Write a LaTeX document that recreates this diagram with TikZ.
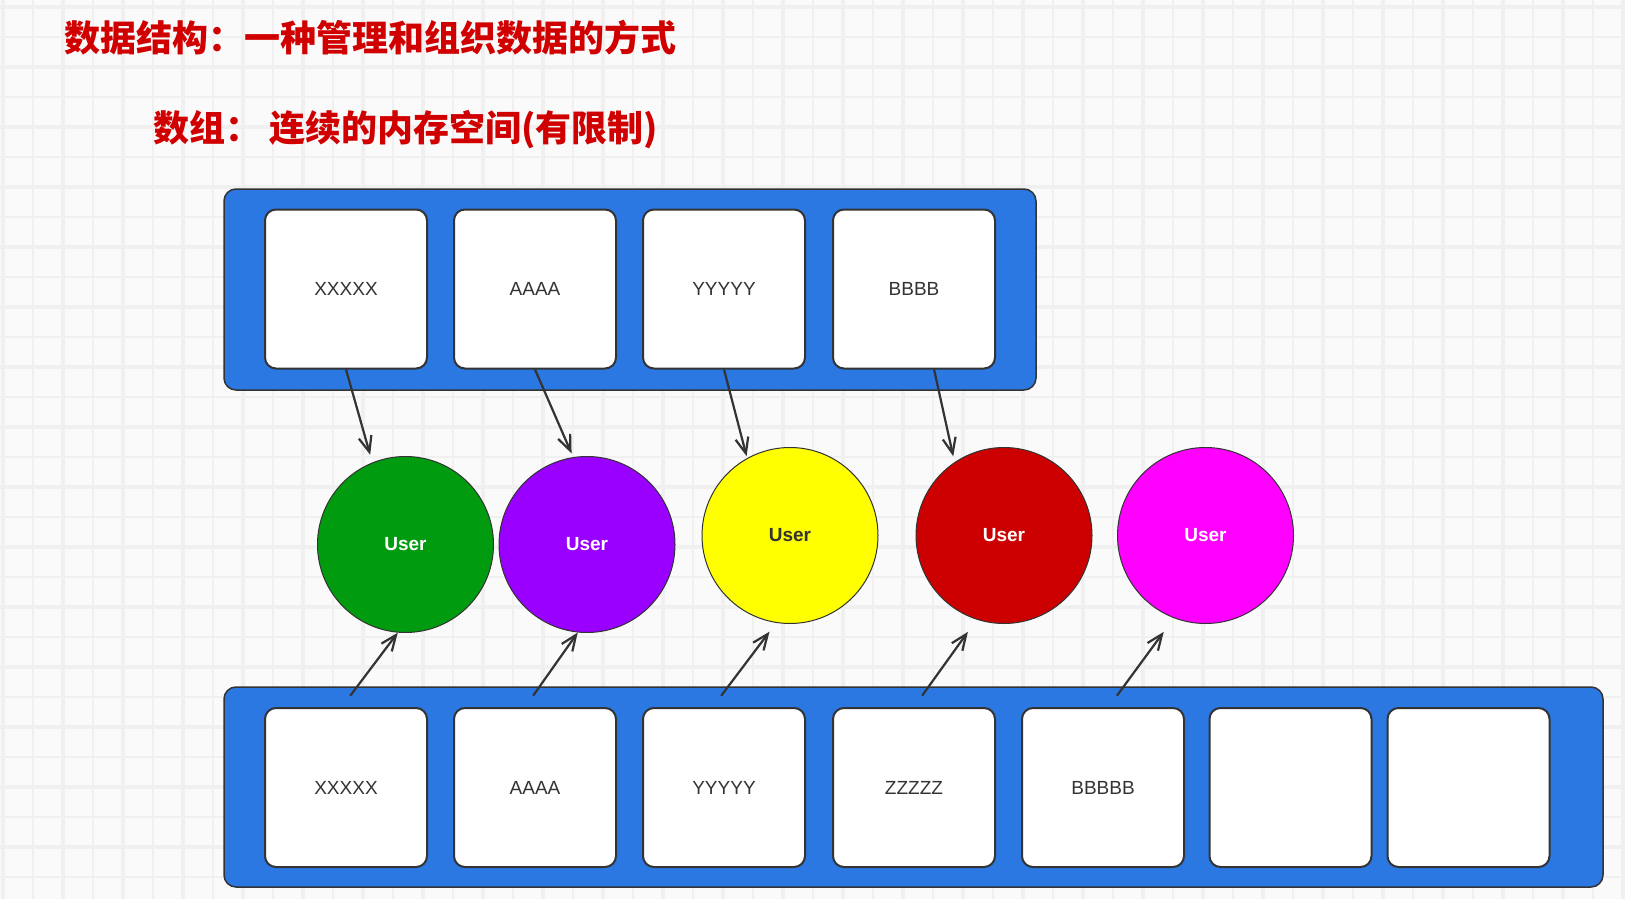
\documentclass[tikz,border=0pt]{standalone}
\usepackage{fontspec}
\usepackage{tikz}
\usetikzlibrary{arrows.meta}
\newfontfamily\cjk{Noto Sans CJK SC}
\newfontfamily\boxfont{Liberation Sans}
\definecolor{titlered}{RGB}{208,0,0}
\definecolor{holderblue}{RGB}{43,120,226}
\definecolor{gridline}{RGB}{240,240,240}
\definecolor{paper}{RGB}{250,250,250}
\definecolor{ink}{RGB}{51,51,51}
\definecolor{ugreen}{RGB}{0,155,15}
\definecolor{upurple}{RGB}{153,0,255}
\definecolor{uyellow}{RGB}{255,255,0}
\definecolor{ured}{RGB}{204,0,0}
\definecolor{umagenta}{RGB}{255,0,255}
\tikzset{
  holder/.style={fill=holderblue, draw=ink, line width=1.5pt, rounded corners=12pt},
  cell/.style={draw=ink, fill=white, line width=2pt, rounded corners=11pt,
    minimum width=162pt, minimum height=159pt, inner sep=0pt, text=ink,
    font=\boxfont\fontsize{19}{19}\selectfont},
  user/.style={circle, draw=ink, line width=1pt, minimum size=176pt, inner sep=0pt,
    text=white, font=\boxfont\bfseries\fontsize{19}{19}\selectfont},
  ptr/.style={draw=ink, line width=2.2pt, -{Straight Barb[angle=45:17pt]}},
  headline/.style={anchor=west, inner sep=0pt, text=titlered,
    font=\cjk\bfseries\fontsize{36}{36}\selectfont}
}

\begin{document}
\begin{tikzpicture}[x=1pt, y=-1pt]
            \useasboundingbox (0,0) rectangle (1625,899);
            % grid paper
            \fill[paper] (0,0) rectangle (1625,899);
            \foreach \g in {33,93,...,1625} \draw[gridline, line width=2pt] (\g,0) -- (\g,899);
            \foreach \g in {37,97,...,899} \draw[gridline, line width=2pt] (0,\g) -- (1625,\g);
            \foreach \g in {3,63,...,1625} \draw[gridline, line width=4pt] (\g,0) -- (\g,899);
            \foreach \g in {7,67,...,899} \draw[gridline, line width=4pt] (0,\g) -- (1625,\g);
            % titles
            \node[headline] (t1) at (64,37.5) {数据结构：一种管理和组织数据的方式};
            \node[headline] (t2) at (153,130) {数组： 连续的内存空间(有限制)};
            % arrays
            \draw[holder] (224,189) rectangle (1036,390);
            \draw[holder] (224,687) rectangle (1603,887);
            \node[cell] (a1) at (346,289) {XXXXX};
            \node[cell] (a2) at (535,289) {AAAA};
            \node[cell] (a3) at (724,289) {YYYYY};
            \node[cell] (a4) at (914,289) {BBBB};
            \node[cell] (b1) at (346,787.5) {XXXXX};
            \node[cell] (b2) at (535,787.5) {AAAA};
            \node[cell] (b3) at (724,787.5) {YYYYY};
            \node[cell] (b4) at (914,787.5) {ZZZZZ};
            \node[cell] (b5) at (1103,787.5) {BBBBB};
            \node[cell] (b6) at (1290.5,787.5) {};
            \node[cell] (b7) at (1468.5,787.5) {};
            % objects
            \node[user, fill=ugreen] (u1) at (405.5,544.5) {User};
            \node[user, fill=upurple] (u2) at (587,544.5) {User};
            \node[user, fill=uyellow, text=ink] (u3) at (790,535.5) {User};
            \node[user, fill=ured] (u4) at (1004,535.5) {User};
            \node[user, fill=umagenta] (u5) at (1205.5,535.5) {User};
            % references
            \draw[ptr, shorten >=8pt] (a1.south) -- (u1.112);
            \draw[ptr, shorten >=4pt] (a2.south) -- (u2.99);
            \draw[ptr, shorten >=2pt] (a3.south) -- (u3.119);
            \draw[ptr, shorten >=6pt] (a4.-76) -- (u4.124);
            \draw[ptr, shorten <=14pt] (b1.93) -- (u1.-95);
            \draw[ptr, shorten <=14pt] (b2.97) -- (u2.-96);
            \draw[ptr, shorten <=14pt, shorten >=11pt] (b3.98) -- (u3.-99);
            \draw[ptr, shorten <=14pt, shorten >=15pt] (b4.north) -- (u4.-108);
            \draw[ptr, shorten <=14pt, shorten >=17pt] (b5.86) -- (u5.-111);
        \end{tikzpicture}
\end{document}
